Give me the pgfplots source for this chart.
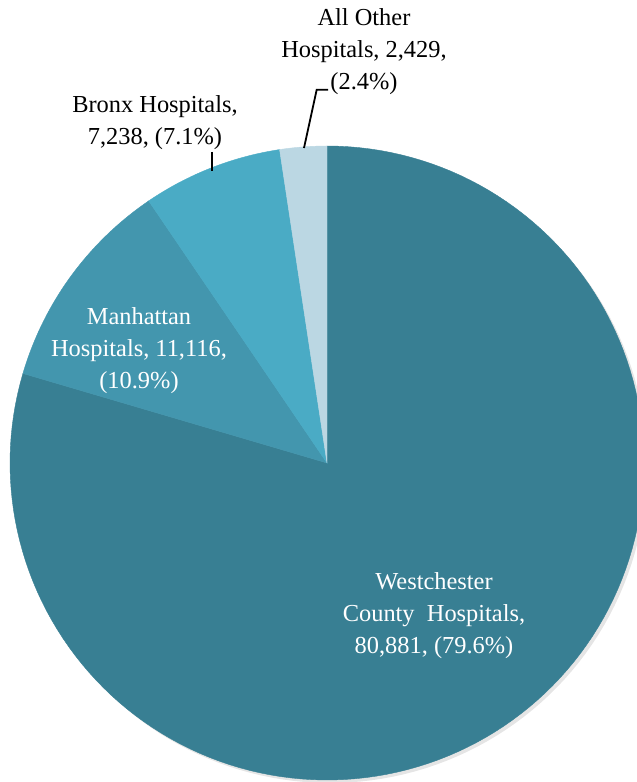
\documentclass[border=0pt]{standalone}
\usepackage{pgfplots}
\pgfplotsset{compat=1.18}
\usepackage{fontspec}
\setmainfont{Liberation Serif}
\definecolor{cW}{HTML}{387F93}
\definecolor{cM}{HTML}{4396AE}
\definecolor{cB}{HTML}{4AABC5}
\definecolor{cO}{HTML}{BBD7E3}
\def\vW{80881}
\def\vM{11116}
\def\vB{7238}
\def\vO{2429}
\edef\tot{\fpeval{\vW+\vM+\vB+\vO}}
\edef\aA{90}
\edef\aW{\fpeval{90-360*\vW/\tot}}
\edef\aM{\fpeval{\aW-360*\vM/\tot}}
\edef\aB{\fpeval{\aM-360*\vB/\tot}}
\edef\aO{\fpeval{\aB-360*\vO/\tot}}
\begin{document}
\begin{tikzpicture}
\begin{axis}[
  x=0.5pt, y=0.5pt,
  xmin=0, xmax=637, ymin=0, ymax=782,
  hide axis, clip=true,
  scale only axis,
]
% subtle shadow
\addplot[fill=black!10, draw=none, domain=0:360, samples=180, variable=\t]
  ({330+317*cos(\t)},{316+317*sin(\t)});
\addplot[fill=cW, draw=cW, very thin, domain=\aW:\aA, samples=150, variable=\t]
  ({327+317*cos(\t)},{319+317*sin(\t)}) -- (axis cs:327,319) -- cycle;
\addplot[fill=cM, draw=cM, very thin, domain=\aM:\aW, samples=40, variable=\t]
  ({327+317*cos(\t)},{319+317*sin(\t)}) -- (axis cs:327,319) -- cycle;
\addplot[fill=cB, draw=cB, very thin, domain=\aB:\aM, samples=30, variable=\t]
  ({327+317*cos(\t)},{319+317*sin(\t)}) -- (axis cs:327,319) -- cycle;
\addplot[fill=cO, draw=cO, very thin, domain=\aO:\aB, samples=15, variable=\t]
  ({327+317*cos(\t)},{319+317*sin(\t)}) -- (axis cs:327,319) -- cycle;
% leader lines
\addplot[black, line width=0.9pt] coordinates {(212,630) (212,611)};
\addplot[black, line width=0.9pt] coordinates {(304,634) (316.7,692.3) (328,692.3)};
% labels
\node[align=center, text=white, font=\fontsize{12.2}{16}\selectfont] at (axis cs:434,166)
  {Westchester\\County\ \ Hospitals,\\80,881, (79.6\%)};
\node[align=center, text=white, font=\fontsize{12.2}{16}\selectfont] at (axis cs:139,431)
  {Manhattan\\Hospitals, 11,116,\\(10.9\%)};
\node[align=center, text=black, font=\fontsize{12.2}{16}\selectfont] at (axis cs:155,659)
  {Bronx Hospitals,\\7,238, (7.1\%)};
\node[align=center, text=black, font=\fontsize{12.2}{16}\selectfont] at (axis cs:364,730)
  {All Other\\Hospitals, 2,429,\\(2.4\%)};
\end{axis}
\pgfresetboundingbox
\path[use as bounding box] (current axis.south west) rectangle (current axis.north east);
\end{tikzpicture}
\end{document}
